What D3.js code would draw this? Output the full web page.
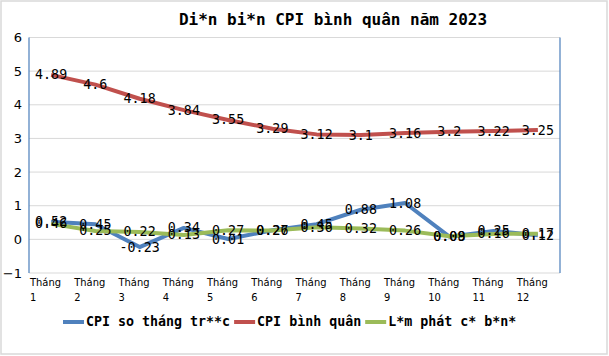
<!DOCTYPE html>
<html><head><meta charset="utf-8">
<script src="https://cdn.jsdelivr.net/npm/d3@7"></script>
<style>body{margin:0;background:#fff}svg{display:block}</style>
</head><body>
<svg id="c" width="609" height="356"></svg>
<script>
const categories = ["Tháng 1","Tháng 2","Tháng 3","Tháng 4","Tháng 5","Tháng 6","Tháng 7","Tháng 8","Tháng 9","Tháng 10","Tháng 11","Tháng 12"];
const cpiMonthly = [0.52,0.45,-0.23,0.34,0.01,0.27,0.45,0.88,1.08,0.08,0.25,0.12];
const cpiAverage = [4.89,4.6,4.18,3.84,3.55,3.29,3.12,3.1,3.16,3.2,3.22,3.25];
const coreInflation = [0.46,0.25,0.22,0.13,0.27,0.26,0.36,0.32,0.26,0.09,0.16,0.17];
const seriesNames = ["CPI so tháng tr**c","CPI bình quân","L*m phát c* b*n*"];
const yTicks = [-1,0,1,2,3,4,5,6];
const title = "Di*n bi*n CPI bình quân năm 2023";

const colors = ["#4f81bd","#c0504d","#9bbb59"];
const series = [cpiMonthly, cpiAverage, coreInflation];
const svg = d3.select("#c");
const L = 29, R = 560, T = 37.5, B = 273;

svg.append("rect").attr("x",1).attr("y",1).attr("width",606).attr("height",353)
  .attr("fill","#fff").attr("stroke","#d9d9d9").attr("stroke-width",1.5);

const x = d3.scaleBand().domain(categories).range([L,R]);
const y = d3.scaleLinear().domain([-1,6]).range([B,T]);

// gridlines
svg.append("g").selectAll("line").data(yTicks).join("line")
  .attr("x1",L).attr("x2",R).attr("y1",d=>y(d)).attr("y2",d=>y(d))
  .attr("stroke","#d9d9d9").attr("stroke-width",1);

// y axis labels
const yAxis = d3.axisLeft(y).tickValues(yTicks).tickSize(0).tickPadding(7).tickFormat(d3.format("d"));
const ga = svg.append("g").attr("transform",`translate(${L},0)`).call(yAxis);
ga.select(".domain").remove();
ga.selectAll("text").attr("font-family","DejaVu Sans").attr("font-size",13).attr("fill","#000");

// left axis + right border
svg.append("line").attr("x1",L).attr("x2",L).attr("y1",T).attr("y2",B).attr("stroke","#4a7ebb").attr("stroke-width",1.2);
svg.append("line").attr("x1",R).attr("x2",R).attr("y1",T).attr("y2",B).attr("stroke","#4a7ebb").attr("stroke-width",1.2);

// category labels
const cg = svg.append("g");
categories.forEach(c=>{
  const parts = c.split(" ");
  const t = cg.append("text").attr("x",x(c)+1).attr("y",286)
    .attr("font-family","'Liberation Sans Narrow','DejaVu Sans Condensed',sans-serif").attr("font-size",11).attr("fill","#000");
  t.append("tspan").attr("x",x(c)+1).attr("y",286).text(parts[0]);
  t.append("tspan").attr("x",x(c)+1).attr("y",301).text(parts[1]);
});

const cx = d => x(d)+x.bandwidth()/2;
const line = d3.line().x((d,i)=>cx(categories[i])).y(d=>y(d));
series.forEach((s,k)=>{
  svg.append("path").datum(s).attr("d",line).attr("fill","none")
    .attr("stroke",colors[k]).attr("stroke-width",4).attr("stroke-linejoin","round");
});
series.forEach((s,k)=>{
  svg.append("g").selectAll("text").data(s).join("text")
    .attr("x",(d,i)=>cx(categories[i])).attr("y",d=>y(d))
    .attr("text-anchor","middle").attr("dominant-baseline","central")
    .attr("font-family","'DejaVu Sans Mono',monospace").attr("font-size",13.3).attr("fill","#000")
    .text(d=>String(d));
});

// title
svg.append("text").attr("x",333).attr("y",24.5).attr("text-anchor","middle")
  .attr("font-family","'DejaVu Sans Mono',monospace").attr("font-weight","bold").attr("font-size",16)
  .attr("fill","#000").text(title);

// legend
let lx = 63; const ly = 326;
seriesNames.forEach((n,k)=>{
  svg.append("line").attr("x1",lx).attr("x2",lx+21).attr("y1",ly-4).attr("y2",ly-4)
    .attr("stroke",colors[k]).attr("stroke-width",4);
  const t = svg.append("text").attr("x",lx+23).attr("y",ly)
    .attr("font-family","'DejaVu Sans Mono',monospace").attr("font-weight","bold").attr("font-size",13.3)
    .attr("fill","#000").text(n);
  lx = lx + 23 + t.node().getComputedTextLength() + 4;
});
</script>
</body></html>
